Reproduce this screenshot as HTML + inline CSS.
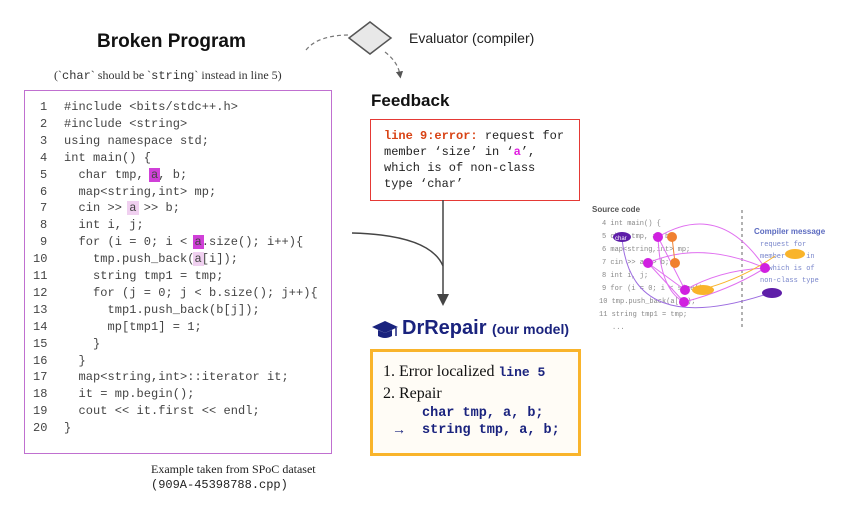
<!DOCTYPE html>
<html><head><meta charset="utf-8"><style>
body{margin:0;width:849px;height:506px;background:#fff;position:relative;overflow:hidden;font-family:"Liberation Sans",sans-serif}
.a{position:absolute;white-space:pre}
.mono{font-family:"Liberation Mono","DejaVu Sans Mono",monospace}
.code{position:absolute;left:24px;top:90px;width:308px;height:364px;border:1.5px solid #c070d0;box-sizing:border-box}
.ln{position:absolute;font-family:"Liberation Mono",monospace;font-size:12px;color:#444;white-space:pre;letter-spacing:0.05px}
.hl{background:#d040d8;padding:0 2px;margin:0 -2px}
.hl2{background:#f0d0f0;padding:0 2px;margin:0 -2px}
</style></head><body>
<div class="a" style="left:97px;top:31px;font-size:19px;font-weight:bold;color:#111">Broken Program</div>
<div class="a" style="left:54px;top:68px;font-size:12px;font-family:'Liberation Serif',serif;color:#333">(`<span class="mono">char</span>` should be `<span class="mono">string</span>` instead in line 5)</div>
<div class="code"></div>
<div id="code"></div>
<div class="a" style="left:151px;top:462px;font-size:12px;font-family:'Liberation Serif',serif;color:#222">Example taken from SPoC dataset</div>
<div class="a mono" style="left:151px;top:478px;font-size:12px;color:#222">(909A-45398788.cpp)</div>

<div class="a" style="left:409px;top:30px;font-size:14px;color:#222">Evaluator (compiler)</div>
<div class="a" style="left:371px;top:91px;font-size:17px;font-weight:bold;color:#111">Feedback</div>
<div class="a" style="left:370px;top:119px;width:210px;height:82px;border:1.5px solid #e53935;box-sizing:border-box"></div>
<div class="a mono" style="left:384px;top:128px;font-size:12px;line-height:16px;color:#222"><span style="color:#d84315;font-weight:bold">line 9:error:</span> request for
member ‘size’ in ‘<span style="color:#e020e0;font-weight:bold">a</span>’,
which is of non-class
type ‘char’</div>

<svg class="a" style="left:371px;top:319px" width="28" height="22"><polygon points="1,8 14,2 27,8 14,14" fill="#1a237e"/><path d="M7,11 L7,17 Q14,21 21,17 L21,11 L14,14 Z" fill="#1a237e"/><line x1="25" y1="9" x2="25" y2="17" stroke="#1a237e" stroke-width="1.5"/></svg>
<div class="a" style="left:402px;top:317px;font-size:20px;font-weight:bold;color:#1a237e">DrRepair <span style="font-size:14px">(our model)</span></div>
<div class="a" style="left:370px;top:349px;width:211px;height:107px;border:3px solid #f9b42b;background:#fffcf6;box-sizing:border-box"></div>
<div class="a" style="left:383px;top:363px;font-size:16px;font-family:'Liberation Serif',serif;color:#111">1. Error localized <span class="mono" style="font-size:13px;font-weight:bold;color:#1a237e">line 5</span></div>
<div class="a" style="left:383px;top:385px;font-size:16px;font-family:'Liberation Serif',serif;color:#111">2. Repair</div>
<div class="a mono" style="left:422px;top:406px;font-size:13.5px;font-weight:bold;color:#1a237e">char tmp, a, b;</div>
<div class="a mono" style="left:422px;top:423px;font-size:13.5px;font-weight:bold;color:#1a237e">string tmp, a, b;</div>
<div class="a" style="left:392px;top:421px;font-size:14px;color:#1a237e">→</div>

<svg class="a" style="left:0;top:0" width="849" height="506">
<defs><marker id="ar" markerWidth="8" markerHeight="8" refX="4" refY="4" orient="auto"><path d="M0,0 L8,4 L0,8 z" fill="#444"/></marker>
<marker id="ad" markerWidth="6" markerHeight="6" refX="3" refY="3" orient="auto"><path d="M0,0 L6,3 L0,6 z" fill="#555"/></marker></defs>
<polygon points="349,38 370,22 391,38 370,54" fill="#e8e8e8" stroke="#555" stroke-width="1.5"/>
<path d="M306,50 Q318,35 350,35" fill="none" stroke="#777" stroke-dasharray="4,3" stroke-width="1.2"/>
<path d="M385,52 Q398,62 400,75" fill="none" stroke="#777" stroke-dasharray="4,3" stroke-width="1.2" marker-end="url(#ad)"/>
<path d="M352,233 Q430,235 443,266" fill="none" stroke="#444" stroke-width="1.5"/>
<line x1="443" y1="200" x2="443" y2="300" stroke="#444" stroke-width="1.5" marker-end="url(#ar)"/>
<g font-family="Liberation Mono,monospace" font-size="7" fill="#888">
<text x="592" y="212" font-family="Liberation Sans" font-size="8" font-weight="bold" fill="#555">Source code</text>
<text x="602" y="225">4 int main() {</text>
<text x="602" y="238">5  char tmp, a, b;</text>
<text x="602" y="251">6  map&lt;string,int&gt; mp;</text>
<text x="602" y="264">7  cin &gt;&gt; a &gt;&gt; b;</text>
<text x="602" y="277">8  int i, j;</text>
<text x="602" y="290">9  for (i = 0; i &lt; size() ..</text>
<text x="599" y="303">10  tmp.push_back(a[i]);</text>
<text x="599" y="316">11  string tmp1 = tmp;</text>
<text x="612" y="329">...</text>
<text x="754" y="234" font-family="Liberation Sans" font-size="8" font-weight="bold" fill="#5c6bc0">Compiler message</text>
<g fill="#7986cb"><text x="760" y="246">request for</text><text x="760" y="258">member '    ' in</text><text x="760" y="270">    , which is of</text><text x="760" y="282">non-class type</text></g>
</g>
<line x1="742" y1="210" x2="742" y2="330" stroke="#666" stroke-dasharray="3,3"/>
<g fill="none" stroke="#e070f0" stroke-width="1">
<path d="M658,237 Q720,200 765,268"/><path d="M648,263 Q700,240 765,268"/><path d="M685,290 Q720,270 765,268"/><path d="M684,302 Q730,290 765,268"/>
<path d="M658,237 L685,290"/><path d="M648,263 L684,302"/><path d="M658,237 Q660,290 684,302"/><path d="M648,263 L685,290"/>
</g>
<path d="M700,290 Q740,280 775,256" fill="none" stroke="#f9b42b"/>
<path d="M622,237 Q630,340 770,293" fill="none" stroke="#9c6ce0"/>
<line x1="672" y1="237" x2="675" y2="263" stroke="#f08030"/>
<ellipse cx="622" cy="237" rx="9" ry="5" fill="#5e1ea8"/><text x="615" y="240" font-size="6" fill="#fff">char</text>
<circle cx="658" cy="237" r="5" fill="#d020e0"/><circle cx="672" cy="237" r="5" fill="#f08030"/>
<circle cx="648" cy="263" r="5" fill="#d020e0"/><circle cx="675" cy="263" r="5" fill="#f08030"/>
<circle cx="685" cy="290" r="5" fill="#d020e0"/><ellipse cx="703" cy="290" rx="11" ry="5" fill="#f9b42b"/>
<circle cx="684" cy="302" r="5" fill="#d020e0"/>
<ellipse cx="795" cy="254" rx="10" ry="5" fill="#f9b42b"/><circle cx="765" cy="268" r="5" fill="#d020e0"/>
<ellipse cx="772" cy="293" rx="10" ry="5" fill="#5e1ea8"/>
</svg>
<script>
var L=["#include <bits/stdc++.h>","#include <string>","using namespace std;","int main() {","  char tmp, @a@, b;","  map<string,int> mp;","  cin >> %a% >> b;","  int i, j;","  for (i = 0; i < @a@.size(); i++){","    tmp.push_back(%a%[i]);","    string tmp1 = tmp;","    for (j = 0; j < b.size(); j++){","      tmp1.push_back(b[j]);","      mp[tmp1] = 1;","    }","  }","  map<string,int>::iterator it;","  it = mp.begin();","  cout << it.first << endl;","}"];
var h="";
for(var i=0;i<L.length;i++){var y=100+i*16.9;
var t=L[i].replace(/&/g,"&amp;").replace(/</g,"&lt;").replace(/>/g,"&gt;").replace(/@a@/g,'<span class="hl">a</span>').replace(/%a%/g,'<span class="hl2">a</span>');
h+='<div class="ln" style="left:'+(i<9?40:33)+'px;top:'+y+'px">'+(i+1)+'</div><div class="ln" style="left:64px;top:'+y+'px">'+t+'</div>';}
document.getElementById("code").innerHTML=h;
</script>
</body></html>
